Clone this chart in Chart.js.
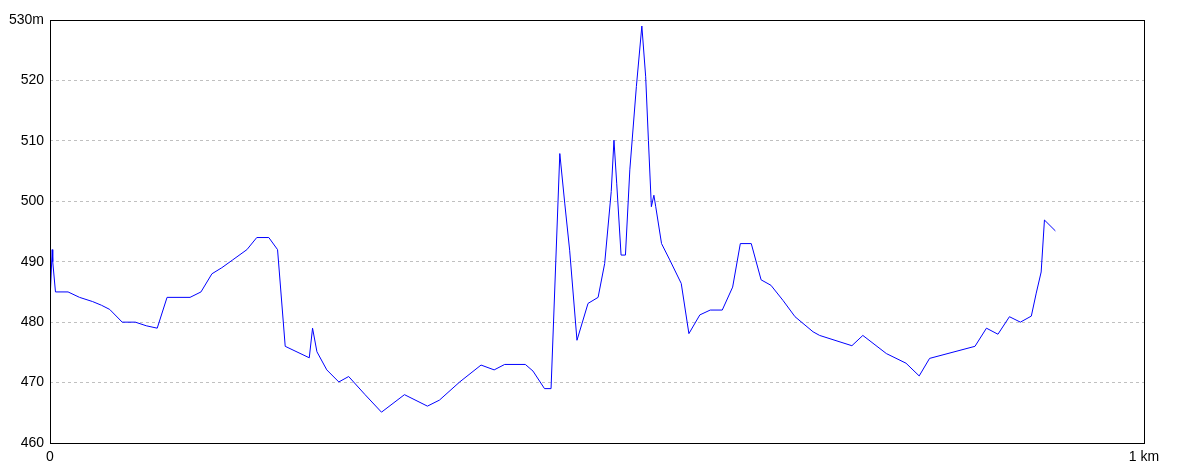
<!DOCTYPE html>
<html>
<head>
<meta charset="utf-8">
<script src="https://cdn.jsdelivr.net/npm/chart.js@4"></script>
<style>
  html, body { margin: 0; padding: 0; background: #fff; }
  #wrap { width: 1184px; height: 473px; }
</style>
</head>
<body>
<div id="wrap"><canvas id="chart"></canvas></div>
<script>
// distance along the route (km) and elevation (m)
var distances = [
  0, 0.002, 0.0025, 0.005, 0.0165, 0.027, 0.039, 0.047, 0.0546,
  0.066, 0.078, 0.088, 0.098, 0.107, 0.128, 0.138, 0.148, 0.157, 0.167,
  0.180, 0.189, 0.200, 0.208, 0.215, 0.237, 0.240, 0.244, 0.253, 0.264,
  0.273, 0.288, 0.303, 0.324, 0.345, 0.356, 0.3745, 0.394, 0.406, 0.4156,
  0.4345, 0.4415, 0.452, 0.458, 0.466, 0.4705, 0.475, 0.4817, 0.4918, 0.501,
  0.507, 0.513, 0.5155, 0.518, 0.522, 0.526, 0.530, 0.536, 0.541, 0.5445,
  0.547, 0.5497, 0.552, 0.5537, 0.559, 0.5665, 0.577, 0.584, 0.594, 0.6035,
  0.6145, 0.624, 0.631, 0.641, 0.650, 0.659, 0.670, 0.681, 0.6975, 0.7035,
  0.733, 0.743, 0.7645, 0.7825, 0.7945, 0.804, 0.8455, 0.856, 0.8665, 0.877,
  0.887, 0.897, 0.9015, 0.906, 0.909, 0.919
];
var elevations = [
  483.5, 492, 490, 485, 485, 484.1, 483.4, 482.8, 482.1,
  480, 480, 479.4, 479, 484.1, 484.1, 485, 488, 489, 490.3,
  492, 494, 494, 492, 476, 474.1, 479, 475.1, 472.1, 470.1,
  471, 468, 465.1, 468, 466.1, 467.1, 470.1, 472.9, 472.1, 473,
  473, 471.9, 469, 469, 507.9, 499.7, 491.9, 477, 483.1, 484.1,
  489.7, 501.6, 510.1, 503, 491.1, 491.1, 505.2, 519, 529, 520.6,
  510.1, 499.1, 501, 499.1, 493, 490.3, 486.4, 478.1, 481.2, 482,
  482, 485.8, 493, 493, 487, 486.1, 483.6, 480.9, 478.4, 477.8,
  476.1, 477.8, 474.8, 473.2, 471.1, 474, 476, 479, 478, 480.9,
  480, 481, 484.8, 488.3, 496.9, 495.1
];

var yMin = 460, yMax = 530, yStep = 10;
var xTickLabels = { 0: '0', 1: '1 km' };

var points = distances.map(function(d, i) { return { x: d, y: elevations[i] }; });

// black frame around the plot area
var frame = {
  id: 'frame',
  afterDraw: function(chart) {
    var a = chart.chartArea, c = chart.ctx;
    c.save();
    c.strokeStyle = '#000';
    c.lineWidth = 1;
    c.strokeRect(Math.round(a.left) + 0.5, Math.round(a.top) + 0.5,
                 Math.round(a.right - a.left), Math.round(a.bottom - a.top));
    c.restore();
  }
};

var fontSpec = { family: "'Liberation Sans', Arial, sans-serif", size: 14 };

new Chart(document.getElementById('chart').getContext('2d'), {
  type: 'line',
  data: {
    datasets: [{
      data: points,
      borderColor: '#0000ff',
      borderWidth: 1,
      pointRadius: 0,
      tension: 0,
      fill: false
    }]
  },
  options: {
    responsive: true,
    maintainAspectRatio: false,
    animation: false,
    layout: { padding: { left: 0, top: 20, right: 40, bottom: 0 } },
    plugins: { legend: { display: false }, tooltip: { enabled: false } },
    scales: {
      x: {
        type: 'linear',
        min: 0,
        max: 1,
        afterBuildTicks: function(s) { s.ticks = [{ value: 0 }, { value: 1 }]; },
        afterFit: function(s) { s.height = 30; },
        grid: { display: false, drawTicks: false },
        border: { display: false },
        ticks: {
          color: '#000',
          font: fontSpec,
          padding: 6,
          maxRotation: 0,
          callback: function(v) { return xTickLabels[v]; }
        }
      },
      y: {
        min: yMin,
        max: yMax,
        afterFit: function(s) { s.width = 50; },
        grid: {
          drawTicks: false,
          color: function(c) {
            var v = c.tick && c.tick.value;
            return (v === yMin || v === yMax) ? 'rgba(0,0,0,0)' : '#c0c0c0';
          }
        },
        border: { display: false, dash: [3, 3] },
        ticks: {
          stepSize: yStep,
          color: '#000',
          font: fontSpec,
          padding: 6,
          callback: function(v) { return v === yMax ? v + 'm' : String(v); }
        }
      }
    }
  },
  plugins: [frame]
});
</script>
</body>
</html>
